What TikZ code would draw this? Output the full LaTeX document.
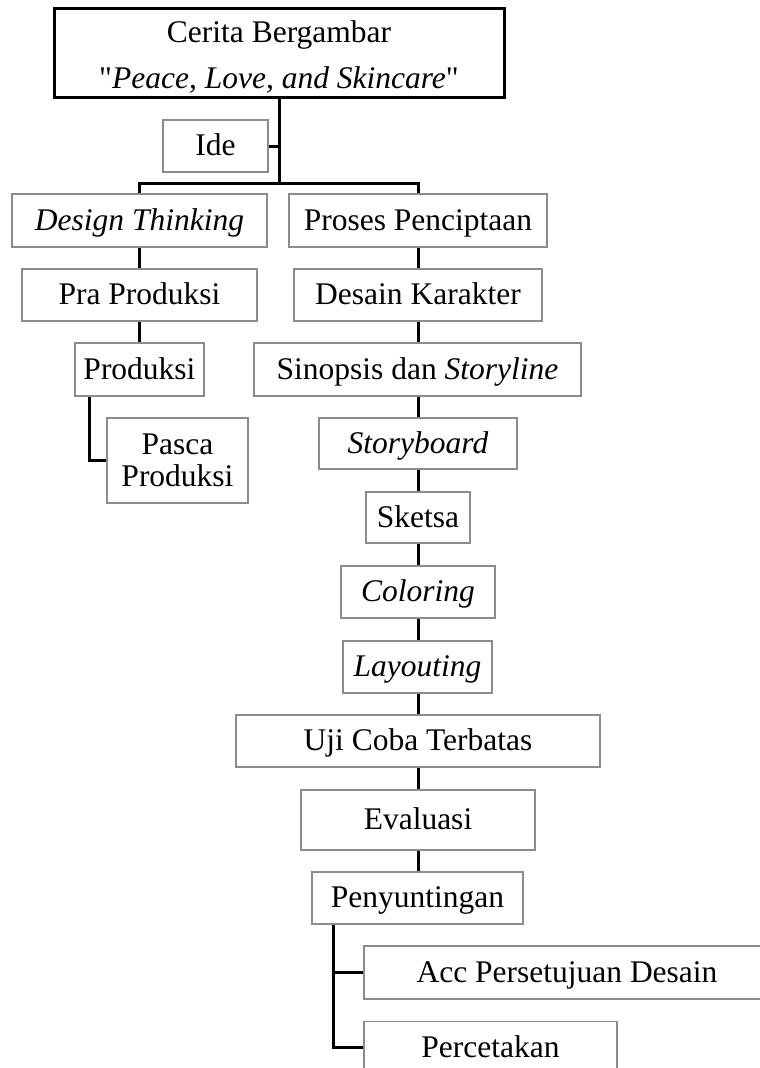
\documentclass[tikz,border=0pt]{standalone}
\usepackage{fontspec}
\setmainfont{Liberation Serif}[Ligatures=TeXOff]
\definecolor{boxgray}{HTML}{8C8C8C}
\tikzset{
  every node/.style={font=\fontsize{31.5}{38}\selectfont},
  bx/.style={draw=boxgray, line width=1.5pt, inner sep=0pt, text height=22pt, text depth=3pt},
  conn/.style={draw=black, line width=3pt},
  txt/.style={anchor=base, inner sep=0pt}
}
\begin{document}
\begin{tikzpicture}[x=1pt,y=-1pt]
\useasboundingbox (0,0) rectangle (760,1068);
% title
\node[draw=black, line width=3pt, minimum width=450pt, minimum height=89pt, inner sep=0pt] (title) at (279,52.5) {};
\node[txt] (t1) at (279,42) {Cerita Bergambar};
\node[txt] (t2) at (279,88) {"\textit{Peace, Love, and Skincare}"};
% boxes
\node[bx, minimum width=105pt, minimum height=52pt] (ide) at (215.5,146) {Ide};
\node[bx, minimum width=255pt, minimum height=53pt] (dt) at (139.5,220.5) {\textit{Design Thinking}};
\node[bx, minimum width=258pt, minimum height=53pt] (pp) at (418,220.5) {Proses Penciptaan};
\node[bx, minimum width=235pt, minimum height=52pt] (pra) at (139.5,295) {Pra Produksi};
\node[bx, minimum width=248pt, minimum height=52pt] (dk) at (418,295) {Desain Karakter};
\node[bx, minimum width=129pt, minimum height=53pt] (prod) at (139.5,369.5) {Produksi};
\node[bx, minimum width=327pt, minimum height=53pt] (sin) at (417.5,369.5) {Sinopsis dan \textit{Storyline}};
\node[draw=boxgray, line width=1.5pt, inner sep=0pt, minimum width=141pt, minimum height=85pt] (pasca) at (177.5,460.5) {};
\node[txt] (pasca1) at (177.5,454) {Pasca};
\node[txt] (pasca2) at (177.5,486) {Produksi};
\node[bx, minimum width=198pt, minimum height=51pt] (sb) at (418,443.5) {\textit{Storyboard}};
\node[bx, minimum width=104pt, minimum height=51pt] (sk) at (418,517.5) {Sketsa};
\node[bx, minimum width=154pt, minimum height=52pt] (col) at (418,592) {\textit{Coloring}};
\node[bx, minimum width=149pt, minimum height=52pt] (lay) at (417.5,667) {\textit{Layouting}};
\node[bx, minimum width=364pt, minimum height=52pt] (uji) at (418,741) {Uji Coba Terbatas};
\node[bx, minimum width=234pt, minimum height=60pt] (eva) at (418,820) {Evaluasi};
\node[bx, minimum width=211pt, minimum height=52pt] (pen) at (417.5,898) {Penyuntingan};
\node[bx, minimum width=406pt, minimum height=53pt] (acc) at (567,972.5) {Acc Persetujuan Desain};
\node[bx, minimum width=253pt, minimum height=52pt] (per) at (490.5,1047.5) {Percetakan};
% connectors
\coordinate (j) at (279,183);
\draw[conn] (title.south) -- (j);
\draw[conn] (ide.east) -- (ide.east -| j);
\draw[conn] (dt.north) -- (dt.north |- j) -- (pp.north |- j) -- (pp.north);
\draw[conn] (dt.south) -- (pra.north);
\draw[conn] (pra.south) -- (prod.north);
\draw[conn] ([xshift=-50.5pt]prod.south) |- (pasca.west);
\draw[conn] (pp.south) -- (dk.north);
\draw[conn] (dk.south) -- (dk.south |- sin.north);
\draw[conn] (sin.south -| sb.north) -- (sb.north);
\draw[conn] (sb.south) -- (sk.north);
\draw[conn] (sk.south) -- (col.north);
\draw[conn] (col.south) -- (col.south |- lay.north);
\draw[conn] (lay.south -| uji.north) -- (uji.north);
\draw[conn] (uji.south) -- (eva.north);
\draw[conn] (eva.south) -- (eva.south |- pen.north);
\draw[conn] ([xshift=-84.5pt]pen.south) |- (acc.west);
\draw[conn] ([xshift=-84.5pt]pen.south) |- (per.west);
\end{tikzpicture}
\end{document}
